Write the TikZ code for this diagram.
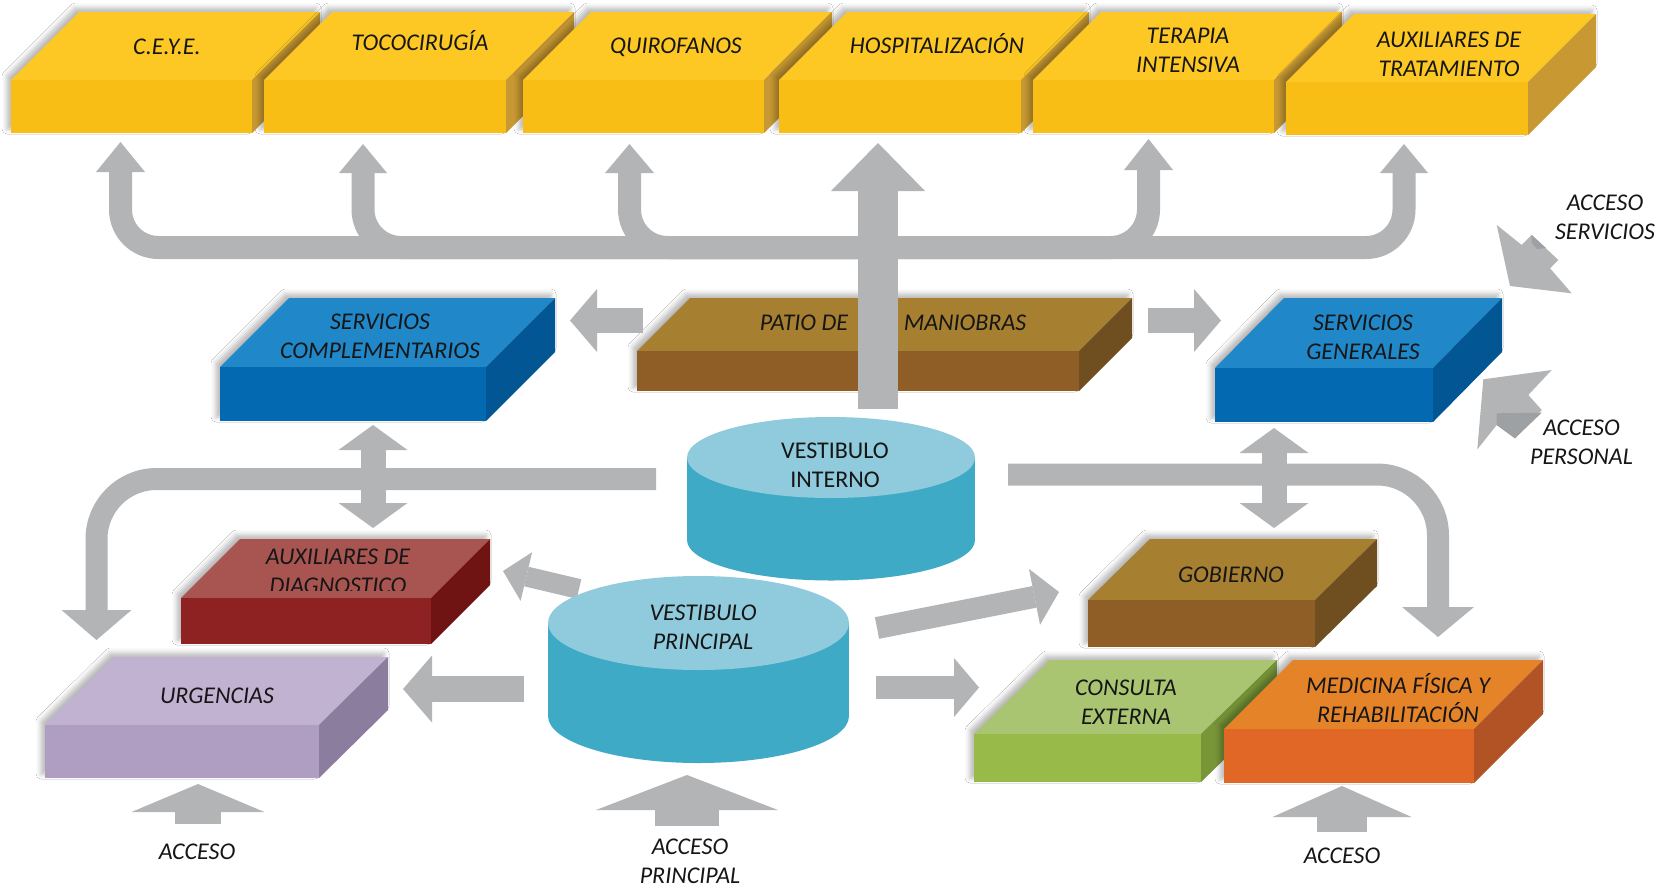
\documentclass[tikz,border=0pt]{standalone}
\usepackage{fontspec}
\setmainfont{Carlito}
\usetikzlibrary{arrows.meta,shadows.blur}
\definecolor{yelT}{RGB}{253,200,35}
\definecolor{yelF}{RGB}{249,190,22}
\definecolor{yelS}{RGB}{200,153,50}
\definecolor{bluT}{RGB}{32,135,200}
\definecolor{bluF}{RGB}{3,106,178}
\definecolor{bluS}{RGB}{2,86,148}
\definecolor{brnT}{RGB}{166,128,48}
\definecolor{brnF}{RGB}{143,94,38}
\definecolor{brnS}{RGB}{111,78,32}
\definecolor{redT}{RGB}{168,85,82}
\definecolor{redF}{RGB}{142,34,34}
\definecolor{redS}{RGB}{111,20,19}
\definecolor{lilT}{RGB}{192,178,208}
\definecolor{lilF}{RGB}{175,158,194}
\definecolor{lilS}{RGB}{139,125,157}
\definecolor{grnT}{RGB}{170,197,113}
\definecolor{grnF}{RGB}{152,186,73}
\definecolor{grnS}{RGB}{120,150,56}
\definecolor{orgT}{RGB}{229,131,41}
\definecolor{orgF}{RGB}{224,103,38}
\definecolor{orgS}{RGB}{178,83,38}
\definecolor{cylT}{RGB}{143,203,220}
\definecolor{cylS}{RGB}{62,170,198}
\definecolor{arrg}{RGB}{179,180,182}
\definecolor{arrd}{RGB}{158,161,164}
\definecolor{txt}{RGB}{22,22,22}

% #1 colour prefix, #2 x1, #3 y1 (front top), #4 x2, #5 y2 (front bottom), #6 dx, #7 dy, #8 label code
\newcommand\isobox[8]{%
  \path[blur shadow={shadow xshift=-4pt,shadow yshift=4pt,shadow blur radius=5pt,shadow opacity=28}]
    (#2,#5) -- (#2,#3) -- ({#2+#6},{#3-#7}) -- ({#4+#6},{#3-#7}) -- ({#4+#6},{#5-#7}) -- (#4,#5) -- cycle;
  \fill[#1T] (#2,#3) -- ({#2+#6},{#3-#7}) -- ({#4+#6},{#3-#7}) -- (#4,#3) -- cycle;
  \fill[#1S] (#4,#3) -- ({#4+#6},{#3-#7}) -- ({#4+#6},{#5-#7}) -- (#4,#5) -- cycle;
  #8
  \fill[#1F] (#2,#3) rectangle (#4,#5);
}

\begin{document}
\begin{tikzpicture}[x=1pt,y=-1pt,
  lbl/.style={font=\fontsize{24}{29}\selectfont\itshape, text=txt, align=center, inner sep=0pt},
  lbl1/.style={lbl, text height=15.3pt, text depth=0pt},
  ulbl/.style={font=\fontsize{24}{29}\selectfont\upshape, text=txt, align=center, inner sep=0pt},
  blk/.style n args={3}{draw=arrg, line width=#1, -{Triangle[width=#2,length=#3,line width=0pt]}},
  dblk/.style n args={3}{draw=arrg, line width=#1, {Triangle[width=#2,length=#3,line width=0pt]}-{Triangle[width=#2,length=#3,line width=0pt]}},
]
\fill[white] (0,0) rectangle (1665,887);

% ---------- coordinates ----------
\coordinate (busC) at (878,247.5);
\coordinate (ceyeA) at (120.5,142);
\coordinate (tocoA) at (363,144);
\coordinate (quirA) at (629.5,144);
\coordinate (terA) at (1148.5,139);
\coordinate (auxtA) at (1404,144);
\coordinate (hospS) at (878,409);
\coordinate (hospA) at (878,143);

% ---------- top bus ----------
\draw[blk={23pt}{49pt}{30pt}, rounded corners=38pt] (busC) -| (ceyeA);
\draw[blk={23pt}{48pt}{29pt}, rounded corners=38pt] (busC) -| (tocoA);
\draw[blk={23pt}{49pt}{29pt}, rounded corners=38pt] (busC) -| (quirA);
\draw[blk={23pt}{49pt}{31pt}, rounded corners=38pt] (busC) -| (terA);
\draw[blk={23pt}{48pt}{29pt}, rounded corners=38pt] (busC) -| (auxtA);

% ---------- top row ----------
\isobox{yel}{11}{80}{252}{133}{68}{68}{\node[lbl1] (ceye) at (167,47) {C.E.Y.E.};}
\isobox{yel}{264}{80}{506}{133}{68}{68}{\node[lbl1] (toco) at (420,43) {TOCOCIRUGÍA};}
\isobox{yel}{523}{80}{764}{133}{68}{68}{\node[lbl1] (quir) at (676,46) {QUIROFANOS};}
\isobox{yel}{779}{80}{1021}{133}{68}{68}{\node[lbl1] (hosp) at (937,46) {HOSPITALIZACIÓN};}
\isobox{yel}{1033}{80}{1274}{133}{68}{68}{\node[lbl] (ter) at (1188,50.5) {TERAPIA\\INTENSIVA};}
\isobox{yel}{1286}{82}{1528}{135}{68}{68}{\node[lbl] (auxt) at (1449,54) {AUXILIARES DE\\TRATAMIENTO};}

% ---------- middle row ----------
\isobox{blu}{220}{367}{486}{421}{69}{69}{\node[lbl] (scomp) at (380,336) {SERVICIOS\\COMPLEMENTARIOS};}
\isobox{brn}{637}{351}{1079}{391}{53}{53}{\node[lbl1] (patio1) at (804,323) {PATIO DE}; \node[lbl1] (patio2) at (965,323) {MANIOBRAS};}
\isobox{blu}{1215}{368}{1433}{422}{69}{70}{\node[lbl] (sgen) at (1363,337.5) {SERVICIOS\\GENERALES};}

\draw[blk={40pt}{94pt}{48pt}] (hospS) -- (hospA);

\coordinate (patL) at (643,320.5);
\coordinate (scT) at (570,320.5);
\coordinate (patR) at (1148,320.5);
\coordinate (sgT) at (1221,320.5);
\draw[blk={25pt}{63pt}{27pt}] (patL) -- (scT);
\draw[blk={25pt}{63pt}{27pt}] (patR) -- (sgT);

% ---------- brackets ----------
\coordinate (lbS) at (656,479);
\coordinate (lbA) at (96.5,640);
\coordinate (rbS) at (1008,474.5);
\coordinate (rbA) at (1438,637);
\draw[blk={22pt}{70pt}{30pt}, rounded corners=60pt] (lbS) -| (lbA);
\draw[blk={22pt}{72pt}{30pt}, rounded corners=61pt] (rbS) -| (rbA);

\coordinate (scA) at (373,425);
\coordinate (adA) at (373,528);
\coordinate (sgA) at (1274,428);
\coordinate (gobA) at (1274,528);
\draw[dblk={25pt}{69pt}{25pt}] (scA) -- (adA);
\draw[dblk={25pt}{69pt}{25pt}] (sgA) -- (gobA);

% ---------- vestibulo interno ----------
\fill[cylS] (687,457.5) rectangle (975,540);
\fill[cylS] (831,540) ellipse [x radius=144pt, y radius=40.5pt];
\fill[cylT] (831,457.5) ellipse [x radius=144pt, y radius=40.5pt];
\node[ulbl] (vint) at (835,465) {VESTIBULO\\INTERNO};

% ---------- lower boxes ----------
\isobox{red}{181}{598}{431}{644}{59}{59}{\begin{scope}\clip (150,530) rectangle (520,590);\node[lbl] (adiag) at (338,571) {AUXILIARES DE\\DIAGNOSTICO};\end{scope}}
\isobox{lil}{45}{725}{319}{778}{69}{68}{\node[lbl1] (urg) at (217,696) {URGENCIAS};}
\isobox{brn}{1088}{600}{1315}{647}{62}{61}{\node[lbl1] (gob) at (1231,575) {GOBIERNO};}
\isobox{grn}{974}{734}{1201}{782}{76}{74}{\node[lbl] (cext) at (1126,702.5) {CONSULTA\\EXTERNA};}
\isobox{org}{1224}{729}{1474}{783}{69}{69}{\node[lbl] (mfr) at (1398,698) {MEDICINA FÍSICA Y\\REHABILITACIÓN};}

% ---------- arrows from vestibulo principal ----------
\coordinate (vpL) at (524,689);
\coordinate (urgT) at (403,689);
\coordinate (vpUL) at (579,589);
\coordinate (adT) at (503,571);
\coordinate (vpUR) at (877,628);
\coordinate (gobT) at (1059,592);
\coordinate (vpR) at (876,687.5);
\coordinate (ceT) at (979,687.5);
\draw[blk={26pt}{67pt}{29pt}] (vpL) -- (urgT);
\draw[blk={20pt}{50pt}{24pt}] (vpUL) -- (adT);
\draw[blk={22pt}{57pt}{25pt}] (vpUR) -- (gobT);
\draw[blk={23pt}{59pt}{25pt}] (vpR) -- (ceT);

% ---------- vestibulo principal ----------
\fill[cylS] (548,623) rectangle (849,716);
\fill[cylS] (698.5,716) ellipse [x radius=150.5pt, y radius=47pt];
\fill[cylT] (698.5,623) ellipse [x radius=150.5pt, y radius=47pt];
\node[lbl] (vpri) at (703,627.5) {VESTIBULO\\PRINCIPAL};

% ---------- accesses ----------
\coordinate (acc1S) at (198,824);
\coordinate (acc1T) at (198,784);
\coordinate (acc2S) at (687,826);
\coordinate (acc2T) at (687,775);
\coordinate (acc3S) at (1342,832);
\coordinate (acc3T) at (1342,786);
\draw[blk={46pt}{133pt}{28pt}] (acc1S) -- (acc1T);
\draw[blk={64pt}{182pt}{35pt}] (acc2S) -- (acc2T);
\draw[blk={50pt}{139pt}{31pt}] (acc3S) -- (acc3T);

\fill[arrg] (1496.7,225) -- (1521.7,245) -- (1531.7,235) -- (1558.3,260) -- (1550,268.3) -- (1571.7,293.3) -- (1510,286) -- cycle;
\fill[arrd] (1531.7,235) -- (1546,248) -- (1537,249) -- (1531.7,243) -- cycle;
\fill[arrg] (1483.3,379.3) -- (1551.7,370) -- (1528.3,395) -- (1541.7,410) -- (1515,438.3) -- (1496.7,425) -- (1477.3,449.3) -- cycle;
\fill[arrd] (1496.7,413.3) -- (1541.7,412.7) -- (1515,438.3) -- (1496.7,425) -- cycle;

\node[lbl] (lacs) at (1605,217.5) {ACCESO\\SERVICIOS};
\node[lbl] (lacp) at (1581.5,442.5) {ACCESO\\PERSONAL};
\node[lbl1] (lac1) at (197,852) {ACCESO};
\node[lbl] (lac2) at (690,861.5) {ACCESO\\PRINCIPAL};
\node[lbl1] (lac3) at (1342,856) {ACCESO};
\end{tikzpicture}
\end{document}
